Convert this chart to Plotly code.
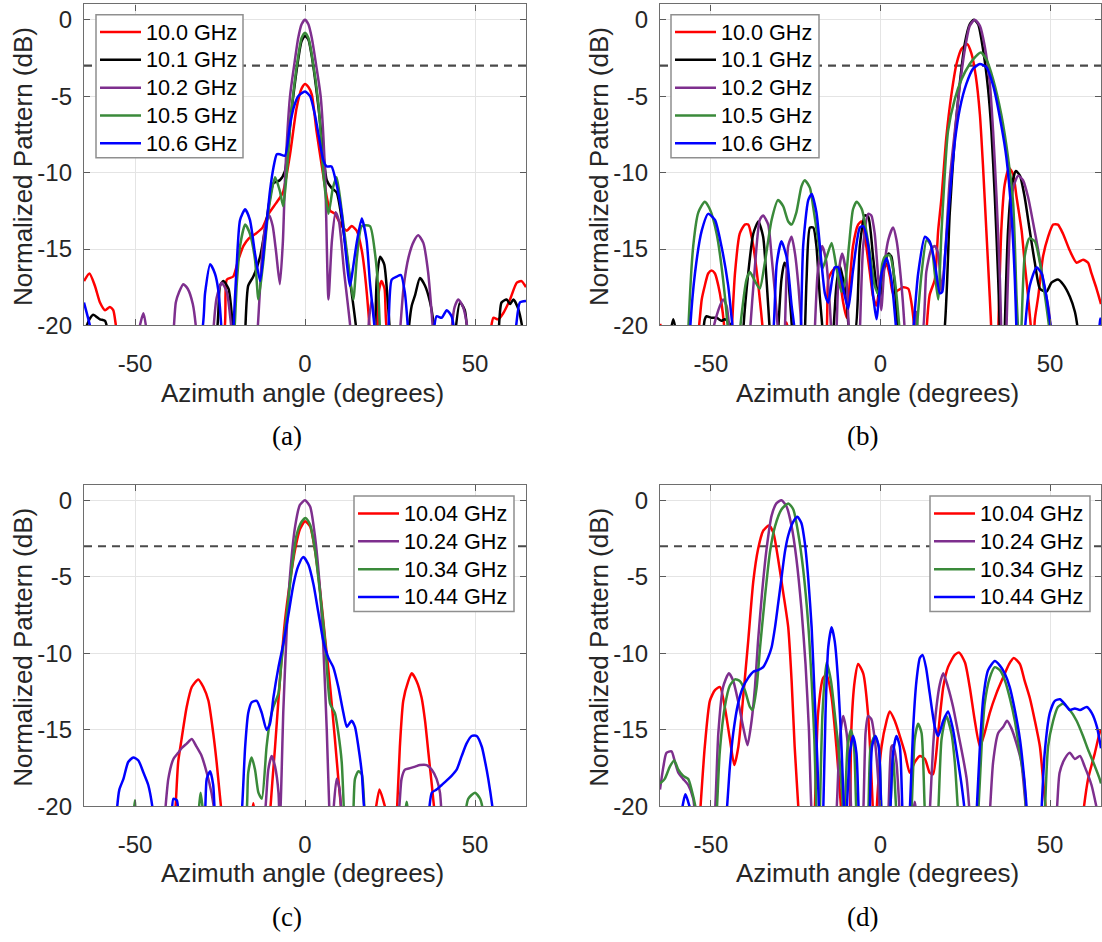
import plotly.graph_objects as go

W, H = 1102, 942

# ---------------------------------------------------------------- data
# angles in degrees, normalized pattern in dB (values below -20 dB fall off the axes)

# (a) fixed beam, 10.0 / 10.1 / 10.2 / 10.5 / 10.6 GHz
a_100_deg = [-65, -63.4, -61.8, -60.3, -58.8, -57.4, -56.4, -55.2, -40, -23.8, -23, -21.1, -19.6, -18.1, -16.5, -14.5, -12.5, -10.7, -8.5, -6.5, -4.4, -2.5, -1, 0, 1, 2, 3.4, 4.9, 6.4, 7.4, 8.8, 10.8, 12.3, 13.7, 15.2, 16.7, 17.6, 19.1, 20.8, 21.7, 22.5, 23.4, 24.2, 40, 54.4, 55.4, 56.8, 58.3, 60.3, 62.3, 63.7, 65]
a_100_db = [-17.1, -16.6, -17.4, -18.5, -19.0, -18.8, -19.0, -20.5, -30, -20.5, -17.0, -16.8, -15.7, -14.8, -14.3, -14.0, -13.6, -12.7, -12.0, -11.3, -8.8, -5.8, -4.5, -4.2, -4.4, -4.9, -7.3, -9.5, -11.6, -12.5, -12.7, -13.5, -13.8, -13.5, -13.8, -15.1, -16.6, -20.5, -28, -17.8, -17.1, -17.6, -20.5, -30, -20.5, -19.5, -19.6, -19.2, -18.3, -17.2, -17.1, -17.5]

a_101_deg = [-65, -63.4, -62.3, -60.3, -58.8, -57.8, -40, -26, -25, -24, -22.5, -21.1, -19, -17.6, -16.7, -15.2, -13.2, -11.3, -9.3, -7.4, -5.9, -4, -2, -1, 0, 1, 2, 4, 5.5, 6.4, 7.8, 9.3, 11.3, 13.2, 15.2, 17.5, 20.6, 21.1, 22.1, 23.3, 24.2, 25, 27.5, 30.4, 31.4, 32.4, 33.8, 35.3, 36.8, 38.2, 42, 44.2, 45.6, 47, 47.8, 52, 56.9, 57.8, 59.3, 60.3, 61.3, 62.7, 64.2, 65]
a_101_db = [-20.5, -19.6, -19.3, -19.6, -19.7, -20.5, -30, -20.5, -17.4, -17.1, -17.6, -20.5, -30, -20.5, -17.4, -16.8, -15.5, -13.1, -10.7, -10.5, -9.9, -6.0, -2.6, -1.4, -1.05, -1.3, -2.4, -5.8, -9.0, -10.5, -11.0, -11.3, -13.8, -17.0, -20.5, -30, -20.5, -17.0, -15.5, -16.0, -18.0, -20.5, -30, -20.5, -18.7, -18.0, -16.9, -17.4, -18.5, -20.5, -30, -20.5, -18.5, -19.0, -20.5, -30, -20.5, -18.5, -18.3, -18.6, -18.3, -18.9, -20.5, -22]

a_102_deg = [-52, -49, -47.5, -46.5, -43, -38.7, -38, -37, -35.8, -34.5, -33, -31.9, -29, -27, -26, -24.5, -23, -21.5, -17.5, -14, -12.5, -11.5, -10.5, -9.5, -8.5, -7.4, -6.5, -5.8, -4.4, -3.2, -2, -1, 0, 1, 2, 3.3, 4.6, 5.9, 6.9, 7.9, 9.0, 10.0, 11.5, 13.5, 16, 18.5, 19.6, 20.8, 24, 27.9, 29, 30.5, 32, 33.3, 34.8, 36.2, 37.7, 40.5, 43, 44, 45.1, 46.5, 48, 52]
a_102_db = [-30, -20.5, -19.2, -20.5, -30, -20.5, -18.5, -17.8, -17.3, -17.6, -18.6, -20.5, -30, -20.5, -18.2, -17.2, -17.8, -20.5, -30, -20.5, -15.0, -13.3, -12.8, -13.5, -15.2, -17.3, -14.5, -10.0, -5.0, -3.0, -1.2, -0.3, 0, -0.3, -1.2, -3.0, -5.0, -10.0, -18.3, -14.5, -12.6, -13.2, -16.5, -20.5, -30, -20.5, -18.3, -20.5, -30, -20.5, -17.5, -15.5, -14.5, -14.1, -14.6, -16.5, -20.5, -30, -20.5, -18.8, -18.3, -18.8, -20.5, -30]

a_105_deg = [-25, -20.8, -20.1, -19.1, -17.6, -16.2, -14.7, -13.7, -12.3, -10.8, -8.8, -7.4, -6.4, -5.4, -4, -2, -1, 0, 1, 2, 4, 5.4, 6.9, 8.2, 9.3, 10.8, 12.7, 14.2, 15.3, 16.7, 19.1, 20.6, 21.5, 22.1, 25]
a_105_db = [-30, -20.5, -17.4, -14.8, -13.4, -14.0, -15.7, -18.3, -15.9, -12.6, -10.3, -11.2, -12.2, -10.1, -6.0, -2.4, -1.2, -0.85, -1.2, -2.3, -5.6, -10.1, -12.7, -11.0, -10.3, -12.5, -15.9, -18.3, -15.5, -13.5, -13.5, -15.3, -17.5, -20.5, -30]

a_106_deg = [-65, -63.7, -62.7, -50, -30.4, -29.4, -27.9, -26.5, -25.5, -24.5, -22.5, -21.1, -20.1, -19.1, -17.6, -16.2, -14.7, -13.2, -11.8, -10.3, -9.3, -8.3, -7.4, -5.9, -4.5, -3.4, -2, 0, 1.5, 2.9, 4.2, 5.4, 6.4, 7.8, 9.3, 10.8, 12.3, 13.2, 15.2, 16.7, 18.1, 19.1, 20.6, 22.5, 24.5, 25.5, 27.0, 28.2, 29.4, 30.4, 34, 37.8, 38.7, 40.2, 41.7, 43.1, 44.1, 52, 61.8, 63.2, 65]
a_106_db = [-18.5, -19.6, -20.5, -30, -20.5, -17.9, -16.0, -16.6, -17.7, -20.5, -30, -20.5, -16.1, -13.1, -12.4, -13.1, -15.3, -17.1, -14.4, -11.2, -9.7, -8.8, -8.8, -8.9, -7.0, -5.8, -5.0, -4.7, -5.0, -6.2, -7.8, -9.2, -9.6, -9.6, -10.8, -12.7, -15.9, -17.4, -14.6, -13.0, -14.4, -17.2, -20.5, -30, -20.5, -17.0, -16.8, -16.7, -17.9, -20.5, -30, -20.5, -19.4, -19.5, -19.0, -19.4, -20.5, -30, -20.5, -18.5, -18.4]

# (b) steered beam, 10.0 / 10.1 / 10.2 / 10.5 / 10.6 GHz
b_100_deg = [-65, -64, -60, -53.7, -52.7, -51.8, -50.8, -49.8, -48.8, -47.8, -46.9, -45.9, -45, -43.9, -42.9, -41.5, -40, -39, -37.5, -36, -34.6, -31, -28.2, -27.7, -27.2, -22, -15.9, -15.4, -14.4, -13, -12, -11, -10, -9, -8.1, -6.6, -5.6, -4.6, -3.1, -2.2, -1.2, 0.3, 1.8, 2.8, 3.7, 5.2, 6.7, 8.2, 9.1, 10.1, 12, 13.5, 14.5, 16.0, 17.0, 18.0, 19.4, 20.9, 22.4, 23.9, 25.6, 26.8, 28.1, 29.3, 30.2, 31.2, 32.2, 32.7, 33.7, 34.7, 35.6, 36.6, 37.9, 39.1, 40.1, 41.6, 42.5, 43.5, 44.5, 45.0, 45.5, 46.5, 47.9, 49.4, 50.9, 52.3, 53.8, 55.8, 57.8, 59.7, 61.2, 62.2, 63.7, 65]
b_100_db = [-19.9, -20.5, -30, -20.5, -18.3, -17.4, -16.6, -16.4, -16.6, -17.4, -18.5, -20.5, -24, -20.5, -16.6, -14.0, -13.4, -13.4, -14.8, -17.4, -20.5, -30, -20.3, -19.8, -20.3, -30, -20.5, -17.0, -16.5, -16.2, -17.0, -18.5, -19.5, -17.0, -14.8, -13.4, -13.2, -14.2, -16.6, -18.1, -18.7, -16.6, -16.0, -16.8, -17.9, -17.7, -17.5, -17.6, -18.5, -20.5, -28, -20.5, -18.0, -17.0, -13.8, -11.6, -7.7, -4.9, -2.9, -1.9, -1.6, -2.2, -3.7, -6.2, -9.5, -13.8, -18.1, -20.5, -28, -20.5, -13.8, -10.8, -9.7, -10.1, -11.6, -13.8, -15.9, -18.1, -20.5, -21.5, -19.6, -18.1, -15.5, -14.2, -13.4, -13.4, -14.0, -15.1, -15.9, -15.7, -15.9, -16.6, -17.6, -18.6]

b_101_deg = [-62, -61.1, -60.2, -56, -52.3, -51.8, -51.3, -49.8, -48.3, -46.9, -45.9, -44.4, -43, -42, -40.5, -39, -37.5, -36, -34.6, -33.6, -32.6, -31.4, -30.2, -29.2, -28.3, -27.5, -26.8, -26.0, -24, -22.3, -21.8, -20.8, -19.8, -18.9, -17.9, -17.0, -15.5, -13.9, -13.0, -12.0, -11.0, -10.0, -9.0, -7.6, -6.1, -4.6, -3.6, -2.2, -1.2, -0.2, 0.8, 2.3, 3.2, 4.2, 5.2, 12, 18.8, 20.4, 21.9, 23.4, 24.9, 26.3, 27.5, 28.8, 30.2, 31.7, 32.7, 33.7, 34.7, 35.2, 35.9, 36.6, 37.6, 38.6, 39.9, 41.1, 42.5, 44.0, 45.5, 47.0, 48.9, 50.4, 52.3, 53.8, 55.8, 57.3, 58.3, 62]
b_101_db = [-20.5, -19.6, -20.5, -30, -20.5, -19.6, -19.4, -19.5, -19.5, -19.7, -19.6, -19.9, -20.5, -30, -20.5, -16.6, -14.0, -13.2, -14.2, -17.0, -20.5, -25, -20.5, -17.0, -15.9, -16.3, -18.0, -20.5, -28, -20.5, -17.0, -13.6, -13.6, -14.8, -18.1, -20.5, -26, -20.5, -17.4, -16.1, -17.0, -18.3, -20.5, -20.5, -14.8, -12.8, -12.9, -15.5, -17.4, -18.3, -16.6, -15.3, -15.5, -17.4, -20.5, -30, -20.5, -12.7, -7.7, -4.1, -1.5, -0.3, 0, -0.3, -1.9, -4.5, -7.3, -11.6, -17.0, -20.5, -28, -20.5, -13.8, -11.0, -9.9, -10.2, -11.6, -13.8, -15.9, -17.6, -17.8, -17.2, -17.0, -17.3, -18.1, -19.1, -20.5, -30]

b_102_deg = [-52, -49.5, -47.8, -46.4, -45.4, -44.4, -41, -38.5, -37.0, -35.6, -34.6, -33.1, -32.1, -31.1, -30.2, -29.2, -28.2, -27.2, -26.2, -25.2, -24.2, -23.2, -21, -19.4, -18.5, -17.2, -16, -15, -14.5, -14, -13, -12.3, -11.3, -10.2, -9.3, -7.5, -6.1, -5.1, -3.6, -2.7, -1.7, -0.7, 0.2, 1.2, 2.3, 3.7, 4.7, 6.2, 7.2, 8.5, 10.0, 10.6, 11.2, 12.3, 13.5, 15.0, 16.0, 17.0, 18.0, 19.0, 20.4, 21.9, 23.4, 24.9, 26.3, 27.8, 29.3, 30.7, 32.2, 33.2, 34.2, 35.2, 35.6, 36.3, 37.1, 38.1, 39.1, 40.6, 42.0, 43.5, 45.0, 46.5, 47.9, 49.4, 50.4, 54]
b_102_db = [-30, -20.5, -19.0, -18.3, -18.7, -20.5, -30, -20.5, -16.1, -13.1, -12.8, -13.4, -15.5, -17.9, -20.5, -30, -20.5, -14.8, -14.2, -15.3, -17.4, -20.5, -30, -20.5, -16.5, -14.8, -15.8, -18.5, -20.5, -24, -20.5, -16.5, -15.3, -16.5, -20.5, -28, -20.5, -14.8, -12.7, -12.8, -14.0, -16.8, -19.0, -16.0, -14.4, -13.6, -14.4, -17.4, -20.5, -26, -20.5, -19.1, -20.5, -20.5, -16.5, -15.0, -14.8, -15.3, -17.8, -15.5, -10.5, -7.3, -4.3, -1.9, -0.4, 0, -0.4, -1.7, -4.1, -7.3, -11.6, -17.0, -20.5, -28, -20.5, -13.8, -11.0, -10.2, -10.5, -11.6, -13.3, -15.1, -17.0, -18.7, -20.5, -30]

b_105_deg = [-58, -56.7, -55.2, -53.7, -51.8, -50.3, -48.3, -46.4, -44.9, -43, -41.5, -39.5, -38.5, -37.0, -35.6, -34.1, -32.1, -30.2, -28.7, -27.2, -26.2, -24.8, -23.3, -22.3, -20.8, -19.8, -18.4, -17.2, -16.0, -14.4, -13.0, -11.5, -10.3, -9.3, -8.1, -7.0, -5.5, -3.1, -1.7, -0.5, 0.5, 1.3, 2.7, 4.2, 5.7, 8, 10.6, 12.1, 13.6, 15.0, 16.0, 17.0, 18.0, 19.9, 21.9, 23.9, 26.3, 28.1, 29.6, 31.2, 33.2, 35.6, 37.6, 39.1, 40.1, 40.6, 41.0, 41.5, 42.5, 43.9, 45.5, 47.0, 48.5, 49.9, 53]
b_105_db = [-30, -20.5, -14.8, -12.6, -11.9, -12.4, -14.0, -17.0, -20.5, -28, -20.5, -17.0, -16.5, -17.1, -17.6, -15.9, -13.1, -11.8, -12.2, -13.2, -13.4, -12.6, -10.9, -10.5, -11.0, -12.3, -14.4, -16.3, -15.6, -14.6, -16.2, -17.8, -17.0, -14.8, -12.4, -11.9, -12.4, -15.3, -17.4, -18.0, -16.0, -15.5, -15.4, -17.0, -20.5, -28, -20.5, -16.6, -14.4, -14.8, -16.6, -18.3, -13.8, -7.3, -5.2, -3.9, -2.9, -2.4, -2.15, -2.6, -3.9, -6.2, -9.0, -12.0, -18.1, -20.5, -23, -20.5, -15.5, -14.3, -14.5, -15.9, -18.1, -20.5, -30]

b_106_deg = [-58, -56.2, -54.7, -52.7, -50.8, -48.8, -46.9, -44.9, -43.4, -37, -31.6, -30.6, -29.2, -27.7, -26.2, -25.2, -24.2, -23.5, -22.8, -21.3, -20.3, -18.9, -17.4, -16.4, -15.4, -13.5, -12.5, -11.0, -9.5, -8.1, -6.1, -5.1, -3.6, -2.2, -1.2, 0.3, 1.8, 3.2, 4.7, 7, 9.6, 11.1, 13.1, 14.5, 16.0, 17.5, 18.2, 19.0, 20.4, 21.9, 23.4, 25.3, 27.3, 29.3, 31.2, 33.2, 35.6, 37.1, 38.6, 39.6, 40.1, 41, 42.5, 44.0, 46.0, 47.5, 48.9, 50.4, 57, 64.3, 64.8, 65]
b_106_db = [-30, -20.5, -16.6, -13.8, -12.7, -13.1, -14.8, -17.4, -20.5, -30, -20.5, -16.0, -14.5, -15.5, -18.7, -20.5, -24, -20.5, -14.8, -11.8, -11.4, -12.6, -15.9, -17.9, -18.5, -16.2, -16.2, -17.6, -18.9, -16.4, -13.6, -13.5, -14.8, -18.0, -19.6, -16.6, -15.6, -17.0, -20.5, -28, -20.5, -16.6, -14.2, -14.5, -15.9, -17.9, -17.8, -15.5, -11.6, -8.0, -5.8, -4.2, -3.2, -2.9, -3.1, -4.3, -6.9, -9.0, -12.7, -17.0, -20.5, -28, -20.5, -17.4, -16.2, -16.6, -18.1, -20.5, -30, -20.5, -19.6, -19.5]

# (c) fixed beam, 10.04 / 10.24 / 10.34 / 10.44 GHz
c_1004_deg = [-42, -38.2, -37.3, -36.3, -34.8, -33.3, -31.4, -29.9, -28.4, -27.0, -26.0, -24.5, -20, -15.6, -15.2, -14.8, -12.5, -10.3, -8.8, -7.4, -5.9, -4.4, -2.9, -1.5, 0, 1.5, 2.9, 4.4, 5.9, 7.4, 8.8, 9.8, 10.8, 15, 20.6, 21.9, 23.0, 24.0, 25.5, 27.0, 27.9, 28.9, 30.4, 31.4, 32.8, 34.3, 35.3, 36.3, 37.3, 38.2, 45]
c_1004_db = [-30, -20.5, -17.1, -15.6, -13.5, -12.2, -11.7, -12.2, -13.1, -15.2, -17.1, -20.5, -30, -20.5, -19.8, -20.5, -30, -20.5, -16.1, -11.8, -7.9, -5.3, -3.2, -1.9, -1.36, -1.7, -3.2, -5.8, -9.0, -12.2, -15.6, -18.2, -20.5, -30, -20.5, -18.9, -19.6, -20.5, -25, -20.5, -16.1, -13.1, -11.8, -11.3, -11.8, -12.9, -14.4, -16.5, -18.6, -20.5, -30]

c_1024_deg = [-45, -41.2, -40.2, -38.7, -37.3, -36.3, -34.8, -33.3, -31.9, -30.4, -28.9, -27.5, -26.5, -19, -11.8, -10.8, -9.8, -8.8, -7.8, -7.4, -6.9, -6.4, -5.4, -4.4, -2.9, -1.5, 0, 1.5, 2.9, 4.4, 5.4, 6.4, 7.2, 7.8, 8.3, 9.3, 10.1, 10.8, 18, 27.5, 28.4, 29.4, 30.9, 32.4, 33.8, 35.8, 37.3, 38.7, 39.7, 40.2, 45]
c_1024_db = [-30, -20.5, -18.2, -16.9, -16.5, -16.2, -15.9, -15.6, -16.1, -16.7, -17.8, -19.1, -20.5, -30, -20.5, -17.6, -16.7, -17.4, -19.1, -21.5, -18.0, -13.9, -8.6, -4.9, -1.7, -0.3, 0, -0.4, -2.3, -5.8, -9.6, -15.0, -20.5, -23, -20.5, -18.2, -18.8, -20.5, -30, -20.5, -18.2, -17.6, -17.5, -17.4, -17.3, -17.3, -17.6, -18.2, -19.1, -20.5, -30]

c_1034_deg = [-51, -50.0, -49.5, -40, -31.4, -30.7, -29.9, -24, -17.2, -16.7, -15.7, -14.7, -13.7, -12.7, -11.3, -10.3, -9.3, -7.8, -6.9, -5.4, -3.9, -2.5, -1.0, 0.2, 1.5, 2.9, 4.4, 5.9, 7.4, 8.8, 9.8, 10.8, 11.5, 12.8, 14.2, 14.7, 15.7, 16.7, 17.6, 23, 29.4, 29.9, 30.4, 40, 47.1, 48.0, 50.0, 51.5, 52.5, 55]
c_1034_db = [-22, -19.6, -22, -30, -20.5, -19.1, -20.5, -30, -20.5, -17.8, -16.8, -17.6, -19.1, -19.5, -16.1, -14.4, -13.5, -12.6, -10.5, -7.5, -4.5, -2.3, -1.4, -1.15, -1.6, -3.2, -6.0, -9.2, -13.3, -13.9, -15.2, -17.1, -20.5, -25, -20.5, -18.2, -17.7, -17.9, -20.5, -30, -20.5, -19.7, -20.5, -30, -20.5, -19.5, -19.1, -19.5, -20.5, -30]

c_1044_deg = [-57, -55.4, -54.6, -53.4, -52.0, -50.5, -49.0, -47.5, -46.1, -44.6, -41, -39.2, -38.7, -37.7, -37.2, -33, -29.4, -28.9, -27.9, -27.0, -26.5, -22, -18.6, -17.6, -16.7, -15.7, -14.2, -12.7, -11.3, -10.3, -9.3, -7.8, -6.4, -4.9, -3.4, -2.0, -0.5, 1.0, 2.5, 3.9, 5.4, 6.9, 8.3, 9.8, 11.3, 12.3, 13.7, 14.7, 15.7, 16.7, 17.6, 27, 36.3, 37.3, 38.7, 40.2, 41.7, 43.1, 44.6, 46.1, 47.5, 49.0, 50.5, 52.0, 52.9, 53.9, 55.4, 60]
c_1044_db = [-30, -20.5, -18.9, -18.2, -17.1, -16.8, -17.0, -17.8, -18.6, -20.5, -30, -20.5, -19.5, -19.6, -20.5, -30, -20.5, -18.2, -17.7, -18.6, -20.5, -30, -20.5, -16.1, -13.9, -13.2, -13.1, -13.9, -15.0, -14.6, -12.9, -10.9, -9.4, -7.5, -5.5, -4.3, -3.7, -4.2, -5.5, -7.3, -9.2, -10.3, -10.9, -12.2, -13.9, -14.8, -14.4, -14.8, -16.1, -17.8, -20.5, -30, -20.5, -19.1, -18.9, -18.6, -18.3, -18.0, -17.6, -16.7, -15.9, -15.4, -15.4, -16.1, -17.0, -18.2, -20.5, -30]

# (d) steered beam, 10.04 / 10.24 / 10.34 / 10.44 GHz
d_1004_deg = [-56, -53.2, -51.8, -50.3, -48.8, -47.3, -45.9, -44.4, -43.1, -41.9, -40.5, -39.0, -37.5, -36.1, -34.6, -32.9, -31.6, -30.2, -28.7, -27.2, -26.2, -25.3, -24.1, -21.5, -19.4, -18.4, -16.9, -15.9, -14.4, -13.0, -11.5, -10.2, -9.0, -8.6, -7.6, -6.6, -5.1, -3.7, -2.2, -1.7, -1.2, 0.3, 1.8, 2.7, 4.2, 5.7, 7.2, 8.6, 10.1, 11.6, 13.1, 14.5, 15.5, 17.0, 18.5, 19.9, 21.9, 23.2, 24.9, 26.3, 27.8, 29.3, 30.7, 32.2, 34.2, 36.1, 37.9, 39.3, 41.1, 42.5, 44.0, 45.5, 47.0, 47.9, 48.9, 55, 59.7, 61.2, 63.2, 64.6, 65]
d_1004_db = [-30, -20.5, -16.1, -13.1, -12.4, -12.2, -13.5, -15.6, -17.3, -16.1, -12.9, -9.2, -5.3, -3.2, -2.0, -1.64, -2.1, -3.8, -6.0, -8.3, -11.8, -16.1, -20.5, -30, -20.5, -13.9, -11.6, -11.4, -12.9, -16.1, -20.5, -26, -20.5, -15.0, -11.8, -10.7, -11.3, -13.9, -20.5, -24, -20.5, -16.1, -14.4, -13.8, -14.4, -15.4, -16.5, -17.8, -17.1, -16.7, -16.9, -17.8, -17.9, -15.2, -12.2, -10.9, -10.1, -9.95, -10.6, -12.2, -14.4, -16.1, -15.2, -13.9, -12.6, -11.6, -10.7, -10.3, -10.7, -11.8, -12.9, -14.4, -16.1, -18.2, -20.5, -30, -20.5, -18.2, -16.5, -15.2, -15.0]

d_1024_deg = [-65, -64.0, -63.1, -61.6, -60.6, -59.6, -58.2, -56.7, -55.2, -54.7, -52, -48.8, -47.8, -46.4, -44.7, -43.4, -42.0, -40.5, -39.2, -38.0, -37.0, -36.1, -34.9, -33.6, -32.1, -30.7, -29.2, -27.7, -26.2, -24.8, -23.3, -22.1, -21.1, -20.3, -16.5, -13.0, -12.0, -11.0, -10.0, -9.0, -8.6, -6.8, -5.1, -4.4, -3.7, -2.7, -1.7, -0.7, -0.2, 1, 2.3, 3.2, 3.7, 4.7, 5.7, 8, 9.6, 10.1, 10.6, 12.5, 14.5, 15.5, 16.5, 17.5, 18.5, 19.9, 21.4, 22.9, 24.4, 25.4, 26.3, 29, 32.2, 33.2, 34.7, 36.2, 37.3, 38.6, 40.1, 41.5, 43.0, 47, 51.9, 52.8, 54.3, 55.8, 57.3, 58.8, 60.2, 62.2, 64.1, 65]
d_1024_db = [-18.9, -17.4, -16.5, -16.4, -17.1, -17.8, -18.2, -18.6, -19.5, -20.5, -30, -20.5, -15.2, -12.2, -11.3, -11.8, -13.1, -14.8, -16.0, -14.4, -12.2, -9.2, -6.0, -3.2, -1.0, -0.2, 0, -0.4, -1.7, -3.8, -7.1, -10.7, -15.0, -20.5, -30, -20.5, -15.6, -14.1, -15.2, -18.2, -20.5, -26, -20.5, -15.2, -14.1, -14.3, -15.6, -18.2, -20.5, -24, -20.5, -16.1, -16.0, -17.1, -20.5, -26, -20.5, -19.7, -20.5, -28, -20.5, -16.1, -13.5, -12.0, -11.3, -12.2, -13.5, -15.2, -16.9, -18.2, -20.5, -30, -20.5, -17.1, -15.2, -14.8, -14.4, -14.9, -15.9, -17.1, -20.5, -30, -20.5, -17.8, -16.9, -16.5, -16.9, -16.7, -17.4, -18.6, -20.5, -21.5]

d_1034_deg = [-65, -63.6, -62.1, -60.8, -59.6, -58.2, -56.7, -55.7, -54.2, -51, -48.3, -47.4, -45.9, -44.4, -42.9, -41.5, -40.0, -38.5, -37.7, -36.5, -35.5, -34.1, -32.6, -31.1, -29.2, -27.2, -25.7, -24.3, -22.8, -21.3, -20.3, -19.5, -18.9, -18.4, -17.9, -17.1, -15.9, -14.6, -13.5, -12.0, -11.0, -10.7, -10.5, -9.7, -8.7, -7.8, -7.1, -5.3, -3.6, -2.9, -1.7, -0.5, 0.3, 1.5, 2.8, 3.7, 4.7, 7, 9.1, 10.1, 11.1, 12.1, 13.1, 15, 17.0, 18.0, 19.4, 20.9, 21.9, 22.9, 26, 28.8, 29.8, 30.7, 32.2, 33.7, 35.2, 36.7, 38.1, 39.6, 41.1, 42.3, 43.0, 46, 48.4, 49.4, 50.9, 52.3, 53.8, 55.8, 57.8, 59.7, 61.2, 62.7, 64.6, 65]
d_1034_db = [-18.5, -18.2, -17.4, -17.0, -17.6, -18.0, -18.2, -18.9, -20.5, -30, -20.5, -16.5, -13.5, -12.1, -11.7, -11.8, -12.4, -13.5, -13.7, -12.2, -9.6, -6.4, -3.4, -1.7, -0.6, -0.2, -0.6, -2.1, -4.5, -8.1, -11.8, -15.6, -20.5, -24, -20.5, -13.9, -10.6, -11.8, -13.9, -17.1, -20.5, -22, -20.5, -16.1, -15.0, -16.1, -20.5, -27, -20.5, -16.1, -15.4, -16.1, -20.5, -23, -20.5, -16.7, -20.5, -27, -20.5, -15.6, -14.6, -15.2, -20.5, -27, -20.5, -15.6, -14.1, -15.2, -17.1, -20.5, -30, -20.5, -16.1, -13.3, -11.6, -10.9, -11.1, -11.8, -12.9, -14.4, -16.5, -18.2, -20.5, -30, -20.5, -16.1, -14.4, -13.5, -13.3, -13.7, -14.4, -15.4, -16.3, -17.1, -18.2, -18.5]

d_1044_deg = [-60, -58.7, -57.5, -56.7, -55.7, -50, -45.4, -44.4, -43.4, -42.0, -40.5, -39.0, -37.5, -36.1, -34.6, -33.2, -32.1, -31.1, -30.2, -29.2, -28.2, -27.2, -25.7, -24.5, -23.3, -22.3, -21.3, -20.3, -19.4, -18.6, -18.1, -17.5, -16.9, -16.2, -15.4, -14.4, -13.5, -12.5, -11.5, -10.7, -10.3, -10.0, -9.0, -8.1, -7.1, -6.4, -4.8, -3.2, -2.5, -1.5, -0.5, 0.3, 1.5, 2.8, 3.7, 4.7, 5.7, 6.5, 7.5, 8.6, 9.6, 10.6, 11.6, 12.4, 13.4, 14.5, 16.0, 17.0, 18.5, 19.9, 21.4, 22.9, 23.9, 24.9, 26.5, 28.3, 29.3, 30.3, 31.7, 33.7, 35.2, 36.6, 38.1, 39.6, 41.1, 42.2, 43.2, 45, 47.4, 48.4, 49.9, 51.4, 52.9, 54.3, 55.8, 57.3, 58.8, 60.8, 62.3, 63.8, 65]
d_1044_db = [-30, -20.5, -19.2, -19.7, -20.5, -30, -20.5, -17.4, -15.2, -13.3, -12.2, -11.6, -11.2, -11.1, -10.9, -10.3, -9.6, -8.3, -6.8, -5.1, -3.4, -2.3, -1.4, -1.08, -1.5, -2.8, -5.1, -8.3, -12.9, -17.1, -20.5, -24, -20.5, -13.9, -9.6, -8.3, -9.2, -11.8, -16.1, -20.5, -22, -20.5, -16.5, -15.4, -16.5, -20.5, -27, -20.5, -16.1, -15.4, -16.1, -20.5, -23, -20.5, -16.5, -15.4, -16.1, -20.5, -24, -20.5, -15.0, -11.8, -10.3, -10.1, -10.9, -12.6, -14.8, -15.4, -14.4, -13.8, -15.0, -17.1, -18.6, -20.5, -27, -20.5, -16.1, -12.9, -11.1, -10.5, -10.8, -11.3, -12.2, -13.7, -15.6, -17.8, -20.5, -30, -20.5, -16.5, -13.9, -13.1, -13.0, -13.3, -13.7, -13.6, -13.7, -13.5, -13.9, -14.8, -16.2]

labels_ab = ["10.0 GHz", "10.1 GHz", "10.2 GHz", "10.5 GHz", "10.6 GHz"]
labels_cd = ["10.04 GHz", "10.24 GHz", "10.34 GHz", "10.44 GHz"]
colors_ab = ["#ff0000", "#000000", "#7e2f8e", "#3a8a3a", "#0000ff"]
colors_cd = ["#ff0000", "#7e2f8e", "#3a8a3a", "#0000ff"]

half_power_db = -3
x_ticks = [-50, 0, 50]
x_ticktext = ["-50", "0", "50"]
y_ticks = [0, -5, -10, -15, -20]
y_ticktext = ["0", "-5", "-10", "-15", "-20"]

panel_series = {
    "a": [(a_100_deg, a_100_db), (a_101_deg, a_101_db), (a_102_deg, a_102_db), (a_105_deg, a_105_db), (a_106_deg, a_106_db)],
    "b": [(b_100_deg, b_100_db), (b_101_deg, b_101_db), (b_102_deg, b_102_db), (b_105_deg, b_105_db), (b_106_deg, b_106_db)],
    "c": [(c_1004_deg, c_1004_db), (c_1024_deg, c_1024_db), (c_1034_deg, c_1034_db), (c_1044_deg, c_1044_db)],
    "d": [(d_1004_deg, d_1004_db), (d_1024_deg, d_1024_db), (d_1034_deg, d_1034_db), (d_1044_deg, d_1044_db)],
}

# ---------------------------------------------------------------- layout geometry (pixels)
SANS = "Liberation Sans, Arial, sans-serif"
SERIF = "Liberation Serif, Times New Roman, serif"

cols = {"left": (84, 526), "right": (660, 1101)}
rows = {"top": (4.5, 330), "bottom": (491.8, 817.7)}
panels = {
    "a": ("left", "top", "", labels_ab, colors_ab),
    "b": ("right", "top", "2", labels_ab, colors_ab),
    "c": ("left", "bottom", "3", labels_cd, colors_cd),
    "d": ("right", "bottom", "4", labels_cd, colors_cd),
}
# legend box: (left, top, right, bottom), first-row centre
legend_boxes = {
    "a": (96, 15, 243, 160, 32.5),
    "b": (671, 15, 819, 160, 32.5),
    "c": (354, 503, 514, 620, 520.7),
    "d": (930, 503, 1090, 620, 520.7),
}
ROW_STEP = 28.2


def fx(p):
    return p / W


def fy(p):
    return 1 - p / H


fig = go.Figure()
shapes, annotations = [], []
layout_axes = {}

for key, (col, row, suf, labels, colors) in panels.items():
    x0, x1 = cols[col]
    top, bot = rows[row]
    xa, ya = "x" + suf, "y" + suf

    # half-power reference
    fig.add_trace(go.Scatter(
        x=[-65, 65], y=[half_power_db, half_power_db], mode="lines",
        line=dict(color="#4a4a4a", width=2.2, dash="8px,6px"),
        xaxis=xa, yaxis=ya, showlegend=False, hoverinfo="skip"))

    for (deg, db), name, color in zip(panel_series[key], labels, colors):
        fig.add_trace(go.Scatter(
            x=deg, y=db, mode="lines", name=name,
            line=dict(color=color, width=2.5, shape="spline", smoothing=0.6),
            xaxis=xa, yaxis=ya, showlegend=False))

    common = dict(
        ticks="inside", ticklen=6, tickwidth=1, tickcolor="#5a5a5a",
        showline=True, mirror="allticks", linecolor="#6e6e6e", linewidth=1.3,
        showgrid=True, gridcolor="#e4e4e4", gridwidth=1, zeroline=False,
        tickfont=dict(family=SANS, size=24, color="#262626"),
        fixedrange=True,
    )
    layout_axes["xaxis" + suf] = dict(
        common, domain=[fx(x0), fx(x1)], range=[-65, 65], anchor=ya,
        tickvals=x_ticks, ticktext=x_ticktext, ticklabelstandoff=17)
    layout_axes["yaxis" + suf] = dict(
        common, domain=[fy(bot), fy(top)], range=[-20, 1], anchor=xa,
        tickvals=y_ticks, ticktext=y_ticktext, ticklabelstandoff=6)

    # axis titles and panel letter
    xc = (x0 + x1) / 2 - 3
    annotations.append(dict(
        text="Azimuth angle (degrees)", x=fx(xc), y=fy(bot + 68),
        xref="paper", yref="paper", xanchor="center", yanchor="middle",
        showarrow=False, font=dict(family=SANS, size=26, color="#262626")))
    annotations.append(dict(
        text="Normalized Pattern (dB)", x=fx(x0 - 61), y=fy((top + bot) / 2 + 2),
        xref="paper", yref="paper", xanchor="center", yanchor="middle",
        textangle=-90, showarrow=False,
        font=dict(family=SANS, size=26, color="#262626")))
    annotations.append(dict(
        text="(" + key + ")", x=fx(xc - 15), y=fy(bot + 112),
        xref="paper", yref="paper", xanchor="center", yanchor="middle",
        showarrow=False, font=dict(family=SERIF, size=27, color="#000000")))

    # legend box
    lx0, ly0, lx1, ly1, r0 = legend_boxes[key]
    shapes.append(dict(
        type="rect", xref="paper", yref="paper",
        x0=fx(lx0), x1=fx(lx1), y0=fy(ly1), y1=fy(ly0),
        line=dict(color="#8f8f8f", width=1.5), fillcolor="white", layer="above"))
    for i, (name, color) in enumerate(zip(labels, colors)):
        ry = r0 + i * ROW_STEP
        shapes.append(dict(
            type="line", xref="paper", yref="paper",
            x0=fx(lx0 + 4), x1=fx(lx0 + 45), y0=fy(ry), y1=fy(ry),
            line=dict(color=color, width=2.5), layer="above"))
        annotations.append(dict(
            text=name, x=fx(lx0 + 48), y=fy(ry), xref="paper", yref="paper",
            xanchor="left", yanchor="middle", showarrow=False,
            font=dict(family=SANS, size=21.6, color="#000000")))

fig.update_layout(
    width=W, height=H,
    margin=dict(l=0, r=0, t=0, b=0),
    paper_bgcolor="white", plot_bgcolor="white",
    showlegend=False,
    shapes=shapes, annotations=annotations,
    **layout_axes,
)

fig.write_html("out.html")
